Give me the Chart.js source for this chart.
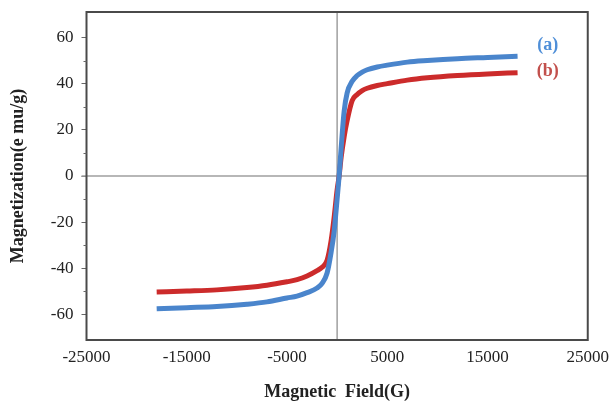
<!DOCTYPE html>
<html>
<head>
<meta charset="utf-8">
<script src="https://cdn.jsdelivr.net/npm/chart.js@4/dist/chart.umd.min.js"></script>
<style>
  html, body { margin: 0; padding: 0; background: #fff; }
  #wrap { width: 616px; height: 403px; }
</style>
</head>
<body>
<div id="wrap"><canvas id="chart" width="616" height="403"></canvas></div>
<script>
// field values (G)
const field = [-18000, -15000, -12000, -9000, -7000, -5000, -4000, -3000, -2000, -1500, -1000, -600, -300, 0,
  200, 400, 700, 1000, 1500, 2000, 2500, 3000, 4000, 5000, 7000, 9000, 12000, 15000, 18000];

// sample (a)
const magA = [-57.5, -57, -56.5, -55.5, -54.5, -52.8, -52, -50.5, -48.5, -46.5, -42, -33, -24, -10,
  0, 12, 28, 36, 41, 43.5, 45, 46, 47.2, 48, 49.3, 50, 50.8, 51.3, 51.8];

// sample (b)
const magB = [-50.2, -49.8, -49.3, -48.3, -47.3, -45.8, -44.9, -43.3, -41, -39.5, -36.5, -28, -18, -6,
  0, 8, 17, 24, 32.6, 35.3, 37, 38, 39.2, 40, 41.5, 42.5, 43.5, 44.2, 44.7];

const yMajor = [-60, -40, -20, 0, 20, 40, 60];
const yMinor = [-50, -30, -10, 10, 30, 50];
const seriesLabels = ['(a)', '(b)'];

const serif = '"Liberation Serif", "Times New Roman", serif';

const toPoints = (ys) => field.map((x, i) => ({ x: x, y: ys[i] }));

// zero lines, box, minor ticks and the (a)/(b) labels
const extras = {
  id: 'extras',
  beforeDatasetsDraw(chart) {
    const { ctx, chartArea, scales } = chart;
    const x0 = scales.x.getPixelForValue(0);
    const y0 = scales.y.getPixelForValue(0);
    ctx.save();
    ctx.strokeStyle = '#a0a0a0';
    ctx.lineWidth = 1.5;
    ctx.beginPath();
    ctx.moveTo(x0, chartArea.top);
    ctx.lineTo(x0, chartArea.bottom);
    ctx.moveTo(chartArea.left - 5, y0);
    ctx.lineTo(chartArea.right, y0);
    ctx.stroke();
    ctx.restore();
  },
  afterDraw(chart) {
    const { ctx, chartArea, scales } = chart;
    ctx.save();
    ctx.strokeStyle = '#4a4a4a';
    ctx.lineWidth = 2;
    ctx.strokeRect(chartArea.left, chartArea.top, chartArea.right - chartArea.left, chartArea.bottom - chartArea.top);

    ctx.lineWidth = 1;
    ctx.strokeStyle = '#666';
    ctx.beginPath();
    yMinor.forEach(v => {
      const py = Math.round(scales.y.getPixelForValue(v)) + 0.5;
      ctx.moveTo(chartArea.left - 3, py);
      ctx.lineTo(chartArea.left, py);
    });
    ctx.stroke();

    ctx.font = 'bold 18px ' + serif;
    ctx.textAlign = 'center';
    ctx.textBaseline = 'middle';
    const lx = scales.x.getPixelForValue(21000);
    ctx.fillStyle = '#4f8fd8';
    ctx.fillText(seriesLabels[0], lx, scales.y.getPixelForValue(56.5));
    ctx.fillStyle = '#c2504c';
    ctx.fillText(seriesLabels[1], lx, scales.y.getPixelForValue(45.5));
    ctx.restore();
  }
};

new Chart(document.getElementById('chart'), {
  type: 'line',
  data: {
    datasets: [
      {
        label: seriesLabels[0],
        data: toPoints(magA),
        borderColor: '#4a85cc',
        borderWidth: 5,
        pointRadius: 0,
        cubicInterpolationMode: 'monotone',
        fill: false
      },
      {
        label: seriesLabels[1],
        data: toPoints(magB),
        borderColor: '#cc2b2b',
        borderWidth: 5,
        pointRadius: 0,
        cubicInterpolationMode: 'monotone',
        fill: false
      }
    ]
  },
  options: {
    responsive: false,
    animation: false,
    layout: { padding: { left: 0, right: 26, top: 12, bottom: 0 } },
    plugins: {
      legend: { display: false },
      tooltip: { enabled: false }
    },
    scales: {
      x: {
        type: 'linear',
        min: -25000,
        max: 25000,
        afterBuildTicks: (axis) => {
          axis.ticks = [-25000, -15000, -5000, 5000, 15000, 25000].map(v => ({ value: v }));
        },
        afterFit: (axis) => { axis.height = 63; },
        grid: { display: false, drawTicks: false },
        border: { display: false },
        ticks: {
          padding: 7,
          color: '#222',
          font: { family: serif, size: 17 },
          maxRotation: 0,
          callback: (v) => String(v)
        },
        title: {
          display: true,
          text: 'Magnetic  Field(G)',
          color: '#222',
          font: { family: serif, size: 18, weight: 'bold' },
          padding: { top: 6, bottom: 0 }
        }
      },
      y: {
        type: 'linear',
        min: -71,
        max: 71,
        afterBuildTicks: (axis) => {
          axis.ticks = yMajor.map(v => ({ value: v }));
        },
        afterFit: (axis) => {
          axis.width = 86.5;
          axis.paddingTop = 0;
          axis.paddingBottom = 0;
        },
        grid: {
          drawOnChartArea: false,
          drawTicks: true,
          tickLength: 5,
          tickColor: '#666'
        },
        border: { display: false },
        ticks: {
          padding: 8,
          color: '#222',
          font: { family: serif, size: 17 },
          callback: (v) => String(v)
        },
        title: {
          display: true,
          text: 'Magnetization(e mu/g)',
          color: '#222',
          font: { family: serif, size: 18, weight: 'bold' },
          padding: { top: 8, bottom: 4 }
        }
      }
    }
  },
  plugins: [extras]
});
</script>
</body>
</html>
